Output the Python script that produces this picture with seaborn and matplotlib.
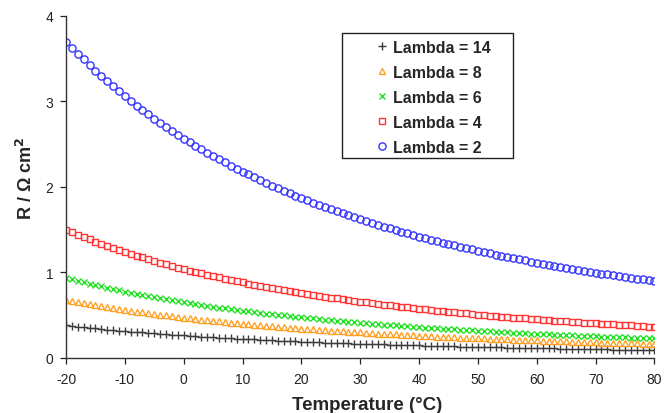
import matplotlib
matplotlib.use("Agg")
import matplotlib.pyplot as plt
from matplotlib.patches import Rectangle
import seaborn as sns
import pandas as pd

temperature = list(range(-20, 81))

lambda_2 = [3.700, 3.629, 3.560, 3.491, 3.424, 3.359, 3.297, 3.236, 3.176, 3.118,
            3.060, 3.006, 2.952, 2.900, 2.848, 2.798, 2.750, 2.703, 2.656, 2.611,
            2.566, 2.524, 2.482, 2.441, 2.401, 2.361, 2.324, 2.287, 2.250, 2.214,
            2.179, 2.146, 2.113, 2.080, 2.048, 2.017, 1.987, 1.957, 1.928, 1.899,
            1.871, 1.844, 1.818, 1.791, 1.766, 1.740, 1.716, 1.692, 1.669, 1.646,
            1.623, 1.601, 1.579, 1.558, 1.537, 1.517, 1.497, 1.477, 1.458, 1.439,
            1.420, 1.402, 1.385, 1.367, 1.350, 1.333, 1.317, 1.301, 1.285, 1.269,
            1.253, 1.239, 1.224, 1.209, 1.195, 1.181, 1.167, 1.154, 1.141, 1.127,
            1.114, 1.102, 1.090, 1.078, 1.066, 1.054, 1.042, 1.031, 1.020, 1.009,
            0.998, 0.987, 0.977, 0.967, 0.956, 0.946, 0.937, 0.927, 0.918, 0.908,
            0.899]

lambda_4 = [1.500, 1.471, 1.443, 1.415, 1.388, 1.362, 1.337, 1.312, 1.288, 1.264,
            1.241, 1.219, 1.197, 1.176, 1.155, 1.134, 1.115, 1.096, 1.077, 1.058,
            1.040, 1.023, 1.006, 0.990, 0.973, 0.957, 0.942, 0.927, 0.912, 0.898,
            0.883, 0.870, 0.856, 0.843, 0.830, 0.818, 0.805, 0.793, 0.782, 0.770,
            0.759, 0.748, 0.737, 0.726, 0.716, 0.706, 0.696, 0.686, 0.677, 0.667,
            0.658, 0.649, 0.640, 0.632, 0.623, 0.615, 0.607, 0.599, 0.591, 0.583,
            0.576, 0.569, 0.561, 0.554, 0.547, 0.540, 0.534, 0.527, 0.521, 0.514,
            0.508, 0.502, 0.496, 0.490, 0.484, 0.479, 0.473, 0.468, 0.462, 0.457,
            0.452, 0.447, 0.442, 0.437, 0.432, 0.427, 0.423, 0.418, 0.413, 0.409,
            0.404, 0.400, 0.396, 0.392, 0.388, 0.384, 0.380, 0.376, 0.372, 0.368,
            0.364]

lambda_6 = [0.940, 0.922, 0.904, 0.887, 0.870, 0.853, 0.838, 0.822, 0.807, 0.792,
            0.777, 0.764, 0.750, 0.737, 0.724, 0.711, 0.699, 0.687, 0.675, 0.663,
            0.652, 0.641, 0.631, 0.620, 0.610, 0.600, 0.590, 0.581, 0.572, 0.563,
            0.554, 0.545, 0.537, 0.528, 0.520, 0.512, 0.505, 0.497, 0.490, 0.483,
            0.475, 0.468, 0.462, 0.455, 0.449, 0.442, 0.436, 0.430, 0.424, 0.418,
            0.412, 0.407, 0.401, 0.396, 0.391, 0.385, 0.380, 0.375, 0.370, 0.366,
            0.361, 0.356, 0.352, 0.347, 0.343, 0.339, 0.335, 0.330, 0.326, 0.322,
            0.318, 0.315, 0.311, 0.307, 0.304, 0.300, 0.297, 0.293, 0.290, 0.286,
            0.283, 0.280, 0.277, 0.274, 0.271, 0.268, 0.265, 0.262, 0.259, 0.256,
            0.253, 0.251, 0.248, 0.246, 0.243, 0.240, 0.238, 0.236, 0.233, 0.231,
            0.228]

lambda_8 = [0.680, 0.667, 0.654, 0.642, 0.629, 0.617, 0.606, 0.595, 0.584, 0.573,
            0.562, 0.552, 0.543, 0.533, 0.523, 0.514, 0.505, 0.497, 0.488, 0.480,
            0.472, 0.464, 0.456, 0.449, 0.441, 0.434, 0.427, 0.420, 0.414, 0.407,
            0.400, 0.394, 0.388, 0.382, 0.376, 0.371, 0.365, 0.360, 0.354, 0.349,
            0.344, 0.339, 0.334, 0.329, 0.325, 0.320, 0.315, 0.311, 0.307, 0.302,
            0.298, 0.294, 0.290, 0.286, 0.283, 0.279, 0.275, 0.272, 0.268, 0.264,
            0.261, 0.258, 0.254, 0.251, 0.248, 0.245, 0.242, 0.239, 0.236, 0.233,
            0.230, 0.228, 0.225, 0.222, 0.220, 0.217, 0.215, 0.212, 0.210, 0.207,
            0.205, 0.203, 0.200, 0.198, 0.196, 0.194, 0.192, 0.189, 0.187, 0.185,
            0.183, 0.181, 0.180, 0.178, 0.176, 0.174, 0.172, 0.170, 0.169, 0.167,
            0.165]

lambda_14 = [0.380, 0.373, 0.366, 0.359, 0.352, 0.345, 0.339, 0.332, 0.326, 0.320,
             0.314, 0.309, 0.303, 0.298, 0.293, 0.287, 0.282, 0.278, 0.273, 0.268,
             0.264, 0.259, 0.255, 0.251, 0.247, 0.243, 0.239, 0.235, 0.231, 0.227,
             0.224, 0.220, 0.217, 0.214, 0.210, 0.207, 0.204, 0.201, 0.198, 0.195,
             0.192, 0.189, 0.187, 0.184, 0.181, 0.179, 0.176, 0.174, 0.171, 0.169,
             0.167, 0.164, 0.162, 0.160, 0.158, 0.156, 0.154, 0.152, 0.150, 0.148,
             0.146, 0.144, 0.142, 0.140, 0.139, 0.137, 0.135, 0.134, 0.132, 0.130,
             0.129, 0.127, 0.126, 0.124, 0.123, 0.121, 0.120, 0.119, 0.117, 0.116,
             0.114, 0.113, 0.112, 0.111, 0.109, 0.108, 0.107, 0.106, 0.105, 0.104,
             0.102, 0.101, 0.100, 0.099, 0.098, 0.097, 0.096, 0.095, 0.094, 0.093,
             0.092]

labels = ["Lambda = 14", "Lambda = 8", "Lambda = 6", "Lambda = 4", "Lambda = 2"]
series = [lambda_14, lambda_8, lambda_6, lambda_4, lambda_2]
x_ticks = [-20, -10, 0, 10, 20, 30, 40, 50, 60, 70, 80]
y_ticks = [0, 1, 2, 3, 4]

sns.set_theme(style="ticks")
plt.rcParams['font.family'] = ['Liberation Sans', 'DejaVu Sans']
plt.rcParams['axes.unicode_minus'] = False

styles = {
    "Lambda = 14": dict(marker="+", color="#3c3c3c", ms=6.0, mew=1.0),
    "Lambda = 8": dict(marker="^", color="#ffa024", ms=5.0, mew=1.0),
    "Lambda = 6": dict(marker="x", color="#22e022", ms=4.8, mew=1.0),
    "Lambda = 4": dict(marker="s", color="#ff3535", ms=4.3, mew=1.0),
    "Lambda = 2": dict(marker="o", color="#3535ff", ms=5.2, mew=1.0),
}

fig = plt.figure(figsize=(6.64, 4.14), dpi=100)
ax = fig.add_axes([0.0994, 0.1329, 0.8862, 0.8261])

for lab, vals in zip(labels, series):
    df = pd.DataFrame({"T": temperature, "R": vals})
    st = styles[lab]
    sns.lineplot(data=df, x="T", y="R", ax=ax, label=lab, linestyle="none",
                 marker=st["marker"], color=st["color"], markersize=st["ms"],
                 markeredgewidth=st["mew"], markerfacecolor="none",
                 markeredgecolor=st["color"])

ax.set_xlim(-20, 80)
ax.set_ylim(0, 4)
ax.set_xticks(x_ticks)
ax.set_yticks(y_ticks)
ax.tick_params(axis="both", labelsize=10, length=4, width=0.9, colors="#222222",
               direction="out")
ax.tick_params(axis="x", pad=6)
ax.tick_params(axis="y", pad=5)
for side in ["top", "right"]:
    ax.spines[side].set_visible(False)
for side in ["left", "bottom"]:
    ax.spines[side].set_linewidth(1.0)
    ax.spines[side].set_color("#333333")

ax.set_xlabel("Temperature (°C)", fontsize=13.5, fontweight="bold")
ax.xaxis.set_label_coords(0.512, -0.111)
ax.set_ylabel("R / Ω cm$^\\mathbf{2}$", fontsize=13, fontweight="bold")
ax.yaxis.set_label_coords(-0.051, 0.527)

leg = ax.legend(loc="upper left", bbox_to_anchor=(0.5238, 0.930), borderaxespad=0,
                frameon=False, numpoints=1,
                prop=dict(size=11.5, weight="bold"), handlelength=1.0,
                handletextpad=0.2, labelspacing=0.62, borderpad=0)
ax.add_patch(Rectangle((0.4694, 0.5839), 0.2898, 0.3664, transform=ax.transAxes,
                       fill=False, edgecolor="#222222", linewidth=1.0,
                       clip_on=False, zorder=5))

fig.savefig("out.png", dpi=100)
